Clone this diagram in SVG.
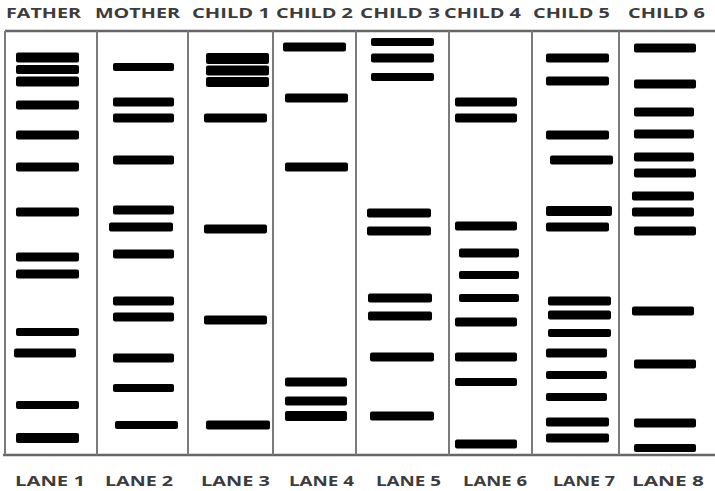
<svg xmlns="http://www.w3.org/2000/svg" width="715" height="491" viewBox="0 0 715 491">
<defs>
<filter id="soft" x="-5%" y="-50%" width="110%" height="200%"><feGaussianBlur stdDeviation="0.6"/></filter>
</defs>
<style>
.hd{font-family:"Open Sans","Liberation Sans",sans-serif;font-weight:bold;font-size:15px;fill:#3c3c3c}
.ft{font-family:"Open Sans","Liberation Sans",sans-serif;font-weight:bold;font-size:14px;fill:#3c3c3c}
.frame{stroke:#666;stroke-width:2.5;fill:none}
.div{stroke:#7a7a7a;stroke-width:2;fill:none}
.b rect{fill:#050505;filter:url(#soft)}
</style>
<rect width="715" height="491" fill="#fff"/>
<g id="headers">
<text class="hd" x="6" y="18" textLength="75" lengthAdjust="spacingAndGlyphs">FATHER</text>
<text class="hd" x="95" y="18" textLength="85" lengthAdjust="spacingAndGlyphs">MOTHER</text>
<text class="hd" x="192" y="18" textLength="78" lengthAdjust="spacingAndGlyphs">CHILD 1</text>
<text class="hd" x="276" y="18" textLength="77" lengthAdjust="spacingAndGlyphs">CHILD 2</text>
<text class="hd" x="360" y="18" textLength="80" lengthAdjust="spacingAndGlyphs">CHILD 3</text>
<text class="hd" x="444" y="18" textLength="77" lengthAdjust="spacingAndGlyphs">CHILD 4</text>
<text class="hd" x="533" y="18" textLength="77" lengthAdjust="spacingAndGlyphs">CHILD 5</text>
<text class="hd" x="628" y="18" textLength="77" lengthAdjust="spacingAndGlyphs">CHILD 6</text>
</g>
<g id="gel">
<line class="frame" x1="5" y1="31" x2="715" y2="31"/>
<line class="frame" x1="3" y1="455" x2="715" y2="455"/>
<line class="div" x1="5" y1="31" x2="5" y2="455"/>
<line class="div" x1="97" y1="31" x2="97" y2="455"/>
<line class="div" x1="188" y1="31" x2="188" y2="455"/>
<line class="div" x1="273" y1="31" x2="273" y2="455"/>
<line class="div" x1="356" y1="31" x2="356" y2="455"/>
<line class="div" x1="449" y1="31" x2="449" y2="455"/>
<line class="div" x1="532" y1="31" x2="532" y2="455"/>
<line class="div" x1="619" y1="31" x2="619" y2="455"/>
</g>
<g id="lane1" class="b">
<rect x="16" y="52.5" width="63" height="10" rx="2"/>
<rect x="16" y="65" width="63" height="9" rx="2"/>
<rect x="16" y="76.5" width="63" height="10" rx="2"/>
<rect x="16" y="100.5" width="63" height="9" rx="2"/>
<rect x="16" y="130.5" width="63" height="9" rx="2"/>
<rect x="16" y="162.5" width="63" height="9" rx="2"/>
<rect x="16" y="207.5" width="63" height="9" rx="2"/>
<rect x="16" y="252.5" width="63" height="9" rx="2"/>
<rect x="16" y="269.5" width="63" height="9" rx="2"/>
<rect x="16" y="328" width="63" height="8" rx="2"/>
<rect x="14" y="348.5" width="62" height="9" rx="2"/>
<rect x="16" y="401" width="63" height="8" rx="2"/>
<rect x="16" y="433" width="63" height="10" rx="2"/>
</g>
<g id="lane2" class="b">
<rect x="113" y="63" width="61" height="8" rx="2"/>
<rect x="113" y="97.5" width="61" height="9" rx="2"/>
<rect x="113" y="113.5" width="61" height="9" rx="2"/>
<rect x="113" y="155.5" width="61" height="9" rx="2"/>
<rect x="113" y="205.5" width="61" height="9" rx="2"/>
<rect x="109" y="222.5" width="64" height="9" rx="2"/>
<rect x="113" y="249.5" width="61" height="9" rx="2"/>
<rect x="113" y="296.5" width="61" height="9" rx="2"/>
<rect x="113" y="312.5" width="61" height="9" rx="2"/>
<rect x="113" y="353.5" width="61" height="9" rx="2"/>
<rect x="113" y="384" width="61" height="8" rx="2"/>
<rect x="115" y="421" width="63" height="8" rx="2"/>
</g>
<g id="lane3" class="b">
<rect x="206" y="53" width="63" height="11" rx="2"/>
<rect x="206" y="65.5" width="63" height="10" rx="2"/>
<rect x="206" y="77" width="63" height="10" rx="2"/>
<rect x="204" y="113.5" width="63" height="9" rx="2"/>
<rect x="204" y="224.5" width="63" height="9" rx="2"/>
<rect x="204" y="315.5" width="63" height="9" rx="2"/>
<rect x="206" y="420.5" width="64" height="9" rx="2"/>
</g>
<g id="lane4" class="b">
<rect x="283" y="42.5" width="63" height="9" rx="2"/>
<rect x="285" y="93.5" width="63" height="9" rx="2"/>
<rect x="285" y="162.5" width="63" height="9" rx="2"/>
<rect x="285" y="377.5" width="62" height="9" rx="2"/>
<rect x="285" y="396.5" width="62" height="9" rx="2"/>
<rect x="285" y="411" width="62" height="10" rx="2"/>
</g>
<g id="lane5" class="b">
<rect x="371" y="38" width="63" height="8" rx="2"/>
<rect x="371" y="53.5" width="63" height="9" rx="2"/>
<rect x="371" y="73" width="63" height="8" rx="2"/>
<rect x="367" y="208.5" width="64" height="9" rx="2"/>
<rect x="367" y="226.5" width="64" height="9" rx="2"/>
<rect x="368" y="293.5" width="64" height="9" rx="2"/>
<rect x="368" y="311.5" width="64" height="9" rx="2"/>
<rect x="370" y="352.5" width="64" height="9" rx="2"/>
<rect x="370" y="411.5" width="64" height="9" rx="2"/>
</g>
<g id="lane6" class="b">
<rect x="455" y="97.5" width="62" height="9" rx="2"/>
<rect x="455" y="113.5" width="62" height="9" rx="2"/>
<rect x="455" y="221.5" width="62" height="9" rx="2"/>
<rect x="459" y="248.5" width="60" height="9" rx="2"/>
<rect x="459" y="271" width="60" height="8" rx="2"/>
<rect x="459" y="294" width="60" height="8" rx="2"/>
<rect x="455" y="317.5" width="62" height="9" rx="2"/>
<rect x="455" y="352.5" width="62" height="9" rx="2"/>
<rect x="455" y="378" width="62" height="8" rx="2"/>
<rect x="455" y="439.5" width="62" height="9" rx="2"/>
</g>
<g id="lane7" class="b">
<rect x="546" y="53.5" width="63" height="9" rx="2"/>
<rect x="546" y="76.5" width="63" height="9" rx="2"/>
<rect x="546" y="130.5" width="63" height="9" rx="2"/>
<rect x="550" y="155.5" width="63" height="9" rx="2"/>
<rect x="546" y="206" width="66" height="10" rx="2"/>
<rect x="546" y="222.5" width="63" height="9" rx="2"/>
<rect x="548" y="296.5" width="63" height="9" rx="2"/>
<rect x="548" y="310.5" width="63" height="9" rx="2"/>
<rect x="548" y="329" width="63" height="8" rx="2"/>
<rect x="546" y="348.5" width="61" height="9" rx="2"/>
<rect x="546" y="371" width="61" height="8" rx="2"/>
<rect x="546" y="393" width="61" height="8" rx="2"/>
<rect x="546" y="417.5" width="63" height="9" rx="2"/>
<rect x="546" y="433.5" width="63" height="9" rx="2"/>
</g>
<g id="lane8" class="b">
<rect x="634" y="43.5" width="62" height="9" rx="2"/>
<rect x="634" y="79.5" width="62" height="9" rx="2"/>
<rect x="634" y="107.5" width="60" height="9" rx="2"/>
<rect x="634" y="129.5" width="60" height="9" rx="2"/>
<rect x="634" y="152.5" width="60" height="9" rx="2"/>
<rect x="634" y="168.5" width="62" height="9" rx="2"/>
<rect x="632" y="191.5" width="62" height="9" rx="2"/>
<rect x="632" y="207.5" width="62" height="9" rx="2"/>
<rect x="634" y="226.5" width="62" height="9" rx="2"/>
<rect x="632" y="306.5" width="62" height="9" rx="2"/>
<rect x="634" y="359.5" width="62" height="9" rx="2"/>
<rect x="634" y="418.5" width="62" height="9" rx="2"/>
<rect x="634" y="444" width="62" height="8" rx="2"/>
</g>
<g id="footers">
<text class="ft" x="15" y="486" textLength="70" lengthAdjust="spacingAndGlyphs">LANE 1</text>
<text class="ft" x="105" y="486" textLength="68" lengthAdjust="spacingAndGlyphs">LANE 2</text>
<text class="ft" x="201" y="486" textLength="69" lengthAdjust="spacingAndGlyphs">LANE 3</text>
<text class="ft" x="289" y="486" textLength="65" lengthAdjust="spacingAndGlyphs">LANE 4</text>
<text class="ft" x="376" y="486" textLength="65" lengthAdjust="spacingAndGlyphs">LANE 5</text>
<text class="ft" x="463" y="486" textLength="64" lengthAdjust="spacingAndGlyphs">LANE 6</text>
<text class="ft" x="553" y="486" textLength="62" lengthAdjust="spacingAndGlyphs">LANE 7</text>
<text class="ft" x="632" y="486" textLength="72" lengthAdjust="spacingAndGlyphs">LANE 8</text>
</g>
</svg>
